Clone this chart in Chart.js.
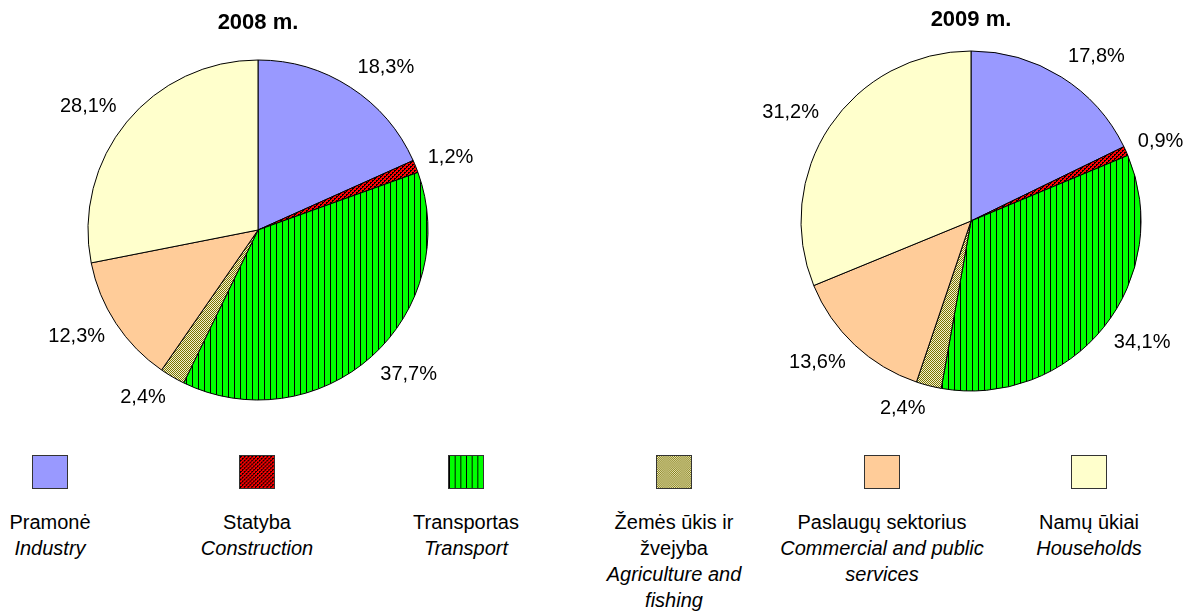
<!DOCTYPE html>
<html>
<head>
<meta charset="utf-8">
<script src="https://cdn.jsdelivr.net/npm/chart.js@4/dist/chart.umd.min.js"></script>
<style>
  html, body { margin: 0; padding: 0; background: #fff; }
  body { width: 1186px; height: 612px; position: relative; overflow: hidden;
         font-family: 'Liberation Sans', Arial, sans-serif; color: #000; }
  #c1 { position: absolute; left: 0; top: 0; }
  #c2 { position: absolute; left: 600px; top: 0; }
  .item { position: absolute; top: 455px; width: 230px; margin-left: -115px;
          text-align: center; font-size: 20px; line-height: 26px; }
  .item canvas { display: block; margin: 0 auto; width: 36px; height: 34px;
                 box-sizing: border-box; border: 1px solid #333; }
  .txt { margin-top: 20px; }
  .en { font-style: italic; }
</style>
</head>
<body>
<canvas id="c1" width="600" height="440"></canvas>
<canvas id="c2" width="586" height="440"></canvas>
<div id="legend"></div>
<script>
// ---- data ----
const years = ['2008 m.', '2009 m.'];
const categoriesLt = [['Pramonė'], ['Statyba'], ['Transportas'], ['Žemės ūkis ir', 'žvejyba'], ['Paslaugų sektorius'], ['Namų ūkiai']];
const categoriesEn = [['Industry'], ['Construction'], ['Transport'], ['Agriculture and', 'fishing'], ['Commercial and public', 'services'], ['Households']];
const values2008 = [18.3, 1.2, 37.7, 2.4, 12.3, 28.1];
const values2009 = [17.8, 0.9, 34.1, 2.4, 13.6, 31.2];

// ---- fills ----
function tile(w, h, bg, fg, pixels) {
  const c = document.createElement('canvas');
  c.width = w; c.height = h;
  const x = c.getContext('2d');
  x.fillStyle = bg; x.fillRect(0, 0, w, h);
  x.fillStyle = fg;
  pixels.forEach(([px, py]) => x.fillRect(px, py, 1, 1));
  return c;
}
const tiles = [
  null,
  tile(4, 4, '#FF0000', '#000000', [[0,0],[1,0],[0,1],[2,2],[3,2],[2,3]]),
  tile(6, 1, '#00FF00', '#000000', [[0,0]]),
  tile(4, 2, '#F4F0D0', '#7A7400', [[0,0],[2,0],[1,1],[3,1]]),
  null,
  null
];
const plainColors = ['#9999FF', null, null, null, '#FFCC99', '#FFFFCC'];
function fillFor(ctx, i) {
  return tiles[i] ? ctx.createPattern(tiles[i], 'repeat') : plainColors[i];
}

// ---- outside labels + title ----
function fmt(v) { return v.toFixed(1).replace('.', ',') + '%'; }
const outLabels = {
  id: 'outLabels',
  afterDatasetsDraw(chart, args, opts) {
    const ctx = chart.ctx;
    const meta = chart.getDatasetMeta(0);
    const data = chart.data.datasets[0].data;
    ctx.save();
    ctx.fillStyle = '#000';
    ctx.font = opts.font;
    ctx.textBaseline = 'middle';
    ctx.textAlign = 'left';
    meta.data.forEach((arc, i) => {
      const p = arc.getProps(['x', 'y', 'startAngle', 'endAngle', 'outerRadius'], true);
      const mid = (p.startAngle + p.endAngle) / 2;
      const c = Math.cos(mid), s = Math.sin(mid);
      const R = p.outerRadius + opts.gap;
      const px = p.x + R * c, py = p.y + R * s;
      const txt = fmt(data[i]);
      const w = ctx.measureText(txt).width;
      const left = c >= 0 ? px : px - w;
      const top = py - opts.boxH * (1 - s) / 2;
      ctx.fillText(txt, left, top + opts.boxH / 2);
    });
    const a = meta.data[0].getProps(['x', 'y', 'outerRadius'], true);
    ctx.font = opts.titleFont;
    ctx.textAlign = 'center';
    ctx.fillText(opts.title, a.x, a.y - a.outerRadius - opts.titleGap);
    ctx.restore();
  }
};

function makePie(id, values, title, padding, titleGap) {
  const canvas = document.getElementById(id);
  const ctx = canvas.getContext('2d');
  return new Chart(canvas, {
    type: 'pie',
    data: {
      labels: categoriesEn.map(l => l.join(' ')),
      datasets: [{
        data: values,
        backgroundColor: values.map((v, i) => fillFor(ctx, i)),
        borderColor: '#000',
        borderWidth: 1,
        offset: 0,
        hoverOffset: 0
      }]
    },
    options: {
      responsive: false,
      animation: false,
      events: [],
      layout: { padding },
      plugins: {
        legend: { display: false },
        tooltip: { enabled: false },
        outLabels: {
          font: '20px "Liberation Sans", Arial, sans-serif',
          titleFont: 'bold 22px "Liberation Sans", Arial, sans-serif',
          title, gap: 13, boxH: 22, titleGap
        }
      }
    },
    plugins: [outLabels]
  });
}

makePie('c1', values2008, years[0], { left: 87.5, top: 59.5, right: 171.5, bottom: 39.5 }, 37);
makePie('c2', values2009, years[1], { left: 200.5, top: 50.5, right: 44.5, bottom: 48.5 }, 31);

// ---- legend ----
const legendX = [50, 257, 466, 674, 882, 1089];
const legend = document.getElementById('legend');
categoriesLt.forEach((lt, i) => {
  const item = document.createElement('div');
  item.className = 'item';
  item.style.left = legendX[i] + 'px';
  const sw = document.createElement('canvas');
  sw.width = 36; sw.height = 34;
  const sctx = sw.getContext('2d');
  sctx.fillStyle = fillFor(sctx, i);
  sctx.fillRect(0, 0, 36, 34);
  item.appendChild(sw);
  const txt = document.createElement('div');
  txt.className = 'txt';
  lt.forEach(line => { const d = document.createElement('div'); d.textContent = line; txt.appendChild(d); });
  categoriesEn[i].forEach(line => { const d = document.createElement('div'); d.className = 'en'; d.textContent = line; txt.appendChild(d); });
  item.appendChild(txt);
  legend.appendChild(item);
});
</script>
</body>
</html>
